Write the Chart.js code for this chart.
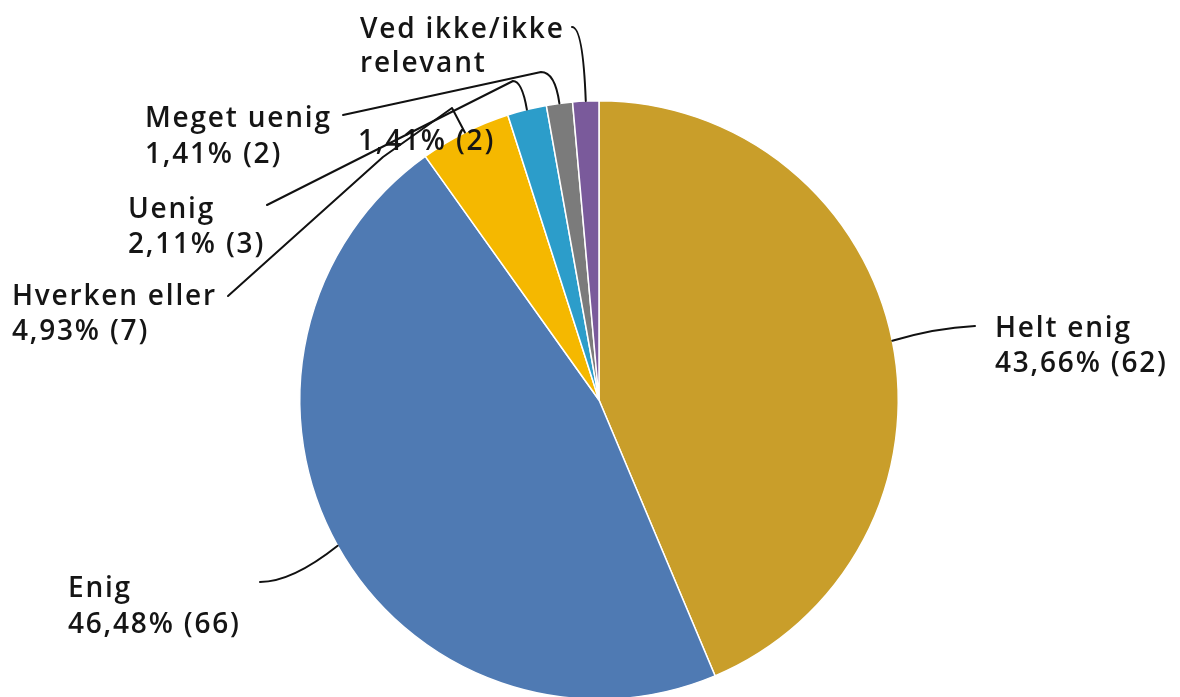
<!DOCTYPE html>
<html>
<head>
<meta charset="utf-8">
<script src="https://cdn.jsdelivr.net/npm/chart.js@4.4.1/dist/chart.umd.min.js"></script>
<style>
  html, body { margin: 0; padding: 0; background: #fff; overflow: hidden; }
  #wrap { width: 1180px; height: 697px; overflow: hidden; position: relative; }
  canvas { display: block; }
</style>
</head>
<body>
<div id="wrap"><canvas id="c" width="1180" height="800"></canvas></div>
<script>
// ---- data ----
const categories = ["Helt enig", "Enig", "Hverken eller", "Uenig", "Meget uenig", "Ved ikke/ikke relevant"];
const counts = [62, 66, 7, 3, 2, 2];
const percentLabels = ["43,66%", "46,48%", "4,93%", "2,11%", "1,41%", "1,41%"];
const colors = ["#C99E2A", "#4F7AB3", "#F5B800", "#2C9DCA", "#7B7B7B", "#7A5A9B"];

// ---- label layout (positions only) ----
// path entries: [x, y] = straight segment, [cx, cy, x, y] = quadratic curve
const labelLayout = [
  { x: 995, ys: [337, 372], lines: ["Helt enig"], path: [[935, 328, 975, 326]] },
  { x: 68,  ys: [597, 633], lines: ["Enig"], path: [[292, 582, 260, 582]] },
  { x: 12,  ys: [305, 340], lines: ["Hverken eller"], path: [[452, 108], [383, 157], [228, 296]] },
  { x: 128, ys: [218, 253], lines: ["Uenig"], path: [[522, 81, 513, 81], [267, 205]] },
  { x: 145, ys: [127, 163], lines: ["Meget uenig"], path: [[555, 72, 541, 72], [343, 115]] },
  { x: 360, ys: [38, 72, 150], xs: [360, 360, 358], lines: ["Ved ikke/ikke", "relevant"], path: [[583, 27, 572, 27]] }
];

const leaderPlugin = {
  id: 'leaders',
  afterDraw(chart) {
    const ctx = chart.ctx;
    const meta = chart.getDatasetMeta(0);
    ctx.save();
    ctx.font = '600 28px "Open Sans"';
    try { ctx.letterSpacing = '1.8px'; } catch (e) {}
    ctx.fillStyle = '#151515';
    ctx.textBaseline = 'alphabetic';
    ctx.textAlign = 'left';
    meta.data.forEach((arc, i) => {
      const L = labelLayout[i];
      const lines = L.lines.concat([percentLabels[i] + " (" + counts[i] + ")"]);
      lines.forEach((t, k) => {
        const x = L.xs ? L.xs[k] : L.x;
        ctx.fillText(t, x, L.ys[k]);
      });
    });
    ctx.strokeStyle = '#111';
    ctx.lineWidth = 2;
    ctx.lineJoin = 'round';
    ctx.lineCap = 'round';
    meta.data.forEach((arc, i) => {
      const p = arc.getProps(['x', 'y', 'startAngle', 'endAngle', 'outerRadius'], true);
      const a = (p.startAngle + p.endAngle) / 2;
      const ax = p.x + Math.cos(a) * p.outerRadius;
      const ay = p.y + Math.sin(a) * p.outerRadius;
      const L = labelLayout[i];
      ctx.beginPath();
      ctx.moveTo(ax, ay);
      L.path.forEach(pt => {
        if (pt.length === 4) ctx.quadraticCurveTo(pt[0], pt[1], pt[2], pt[3]);
        else ctx.lineTo(pt[0], pt[1]);
      });
      ctx.stroke();
    });
    ctx.restore();
  }
};

new Chart(document.getElementById('c'), {
  type: 'pie',
  data: {
    labels: categories,
    datasets: [{
      data: counts,
      backgroundColor: colors,
      borderColor: '#ffffff',
      borderWidth: 1.5
    }]
  },
  options: {
    responsive: false,
    animation: false,
    devicePixelRatio: 1,
    layout: { padding: { top: 100, bottom: 100, left: 18, right: 0 } },
    plugins: { legend: { display: false }, tooltip: { enabled: false } }
  },
  plugins: [leaderPlugin]
});
</script>
</body>
</html>
